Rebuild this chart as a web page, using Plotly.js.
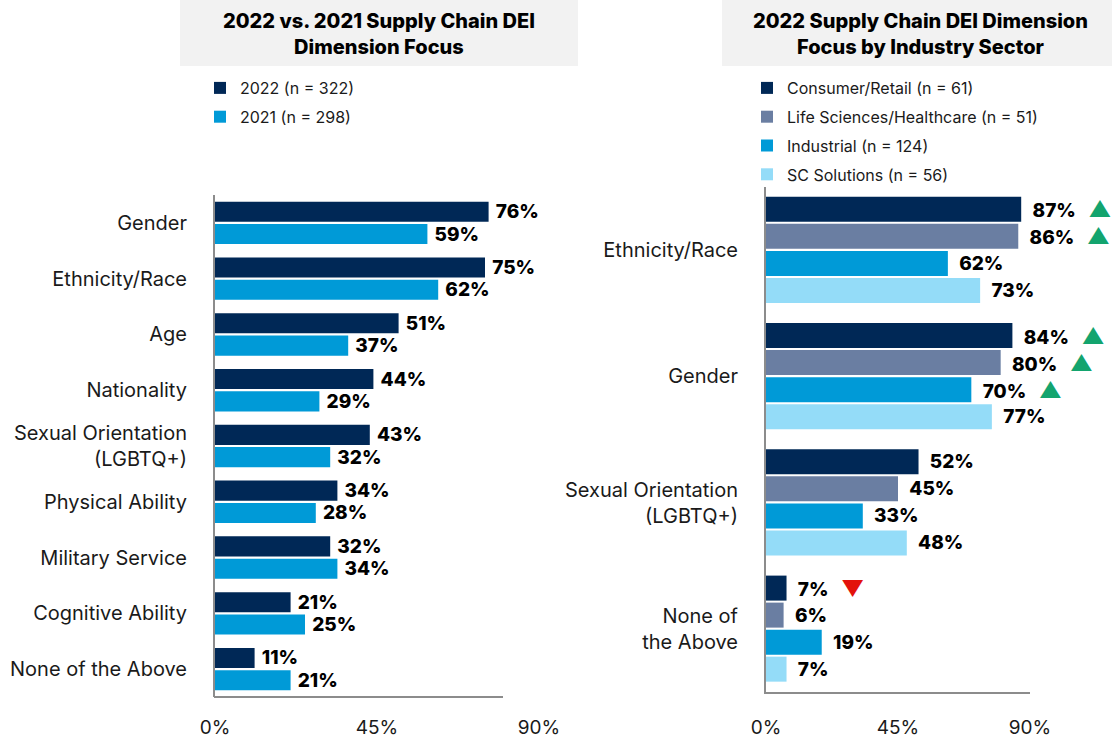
<!DOCTYPE html>
<html>
<head>
<meta charset="utf-8">
<script src="https://cdn.plot.ly/plotly-3.0.1.min.js"></script>
<style>html,body{margin:0;padding:0;background:#fff;}#chart{width:1112px;height:739px;}</style>
</head>
<body>
<div id="chart"></div>
<script>
// ---- Left chart data ----
const leftCategories = ["Gender", "Ethnicity/Race", "Age", "Nationality", "Sexual Orientation<br>(LGBTQ+)", "Physical Ability", "Military Service", "Cognitive Ability", "None of the Above"];
const leftSeriesNames = ["2022 (n = 322)", "2021 (n = 298)"];
const values2022 = [76, 75, 51, 44, 43, 34, 32, 21, 11];
const values2021 = [59, 62, 37, 29, 32, 28, 34, 25, 21];

// ---- Right chart data ----
const rightCategories = ["Ethnicity/Race", "Gender", "Sexual Orientation<br>(LGBTQ+)", "None of<br>the Above"];
const rightSeriesNames = ["Consumer/Retail (n = 61)", "Life Sciences/Healthcare (n = 51)", "Industrial (n = 124)", "SC Solutions (n = 56)"];
const consumerRetail = [87, 84, 52, 7];
const lifeSciences = [86, 80, 45, 6];
const industrial = [62, 70, 33, 19];
const scSolutions = [73, 77, 48, 7];
// significance markers: 1 = up, -1 = down, 0 = none
const consumerSig = [1, 1, 0, -1];
const lifeSig = [1, 1, 0, 0];
const industrialSig = [0, 1, 0, 0];
const scSig = [0, 0, 0, 0];

const xTickVals = [0, 45, 90];
const xTickText = ["0%", "45%", "90%"];

const FONT = "Inter, 'Open Sans', 'DejaVu Sans', sans-serif";
const NB = "\u00A0";
const UP = NB + NB + NB + "<span style='color:#13a46e;font-size:22px'>▲</span>";
const DOWN = NB + NB + NB + "<span style='color:#e3120b;font-size:22px'>▼</span>";

function labels(vals, sig, pad) {
  return vals.map((v, i) => pad + v + "%" + (sig ? (sig[i] === 1 ? UP : sig[i] === -1 ? DOWN : "") : ""));
}

const W = 1112, H = 739;
const px = v => v / W;
const py = v => 1 - v / H;

const labelFont = {family: FONT, size: 19, color: "#000", weight: 800};

const leftBarH = 0.36;
const traces = [
  {type: "bar", orientation: "h", name: leftSeriesNames[0], y: leftCategories, x: values2022,
   xaxis: "x", yaxis: "y", marker: {color: "#002856"}, width: leftBarH, offset: -0.38,
   text: labels(values2022, null, NB), textposition: "outside", textfont: labelFont, constraintext: "none", cliponaxis: false,
   legend: "legend", legendgroup: "a", hoverinfo: "skip"},
  {type: "bar", orientation: "h", name: leftSeriesNames[1], y: leftCategories, x: values2021,
   xaxis: "x", yaxis: "y", marker: {color: "#009ad7"}, width: leftBarH, offset: 0.02,
   text: labels(values2021, null, NB), textposition: "outside", textfont: labelFont, constraintext: "none", cliponaxis: false,
   legend: "legend", legendgroup: "b", hoverinfo: "skip"}
];

const rightSets = [
  [rightSeriesNames[0], consumerRetail, consumerSig, "#002856"],
  [rightSeriesNames[1], lifeSciences, lifeSig, "#6a7ea2"],
  [rightSeriesNames[2], industrial, industrialSig, "#009ad7"],
  [rightSeriesNames[3], scSolutions, scSig, "#94dcf8"]
];
const rW = 0.198, rOff = [-0.422, -0.208, 0.006, 0.22];
rightSets.forEach((s, i) => {
  traces.push({type: "bar", orientation: "h", name: s[0], y: rightCategories, x: s[1],
    xaxis: "x2", yaxis: "y2", marker: {color: s[3]}, width: rW, offset: rOff[i],
    text: labels(s[1], s[2], NB + NB), textposition: "outside", textfont: labelFont, constraintext: "none", cliponaxis: false,
    legend: "legend2", legendgroup: "r" + i, hoverinfo: "skip"});
});

const catFont = {family: FONT, size: 20, color: "#1a1a1a"};
const tickFont = {family: FONT, size: 19, color: "#1a1a1a"};
const axisLine = "#8c8c8c";
const legFont = {family: FONT, size: 16, color: "#1a1a1a"};

const layout = {
  width: W, height: H,
  margin: {l: 0, r: 0, t: 0, b: 0},
  paper_bgcolor: "#fff", plot_bgcolor: "#fff",
  barmode: "group",
  font: {family: FONT, color: "#1a1a1a"},
  showlegend: true,
  xaxis: {domain: [px(215), px(539)], range: [0, 90], tickvals: xTickVals, ticktext: xTickText,
    showgrid: false, zeroline: false, showline: false, ticks: "", ticklabelstandoff: 17,
    tickfont: tickFont, anchor: "y", fixedrange: true},
  yaxis: {domain: [py(697), py(195)], type: "category", autorange: "reversed",
    showgrid: false, zeroline: false, showline: true, linecolor: axisLine, linewidth: 2,
    ticks: "", ticklabelstandoff: 22, tickfont: catFont, anchor: "x", fixedrange: true},
  xaxis2: {domain: [px(766), px(1030)], range: [0, 90], tickvals: xTickVals, ticktext: xTickText,
    showgrid: false, zeroline: false, showline: true, linecolor: axisLine, linewidth: 2,
    ticks: "", ticklabelstandoff: 17, tickfont: tickFont, anchor: "y2", fixedrange: true},
  yaxis2: {domain: [py(692), py(187)], type: "category", autorange: "reversed",
    showgrid: false, zeroline: false, showline: true, linecolor: axisLine, linewidth: 2,
    ticks: "", ticklabelstandoff: 22, tickfont: catFont, anchor: "x2", fixedrange: true},
  legend: {x: px(200), y: py(71), xanchor: "left", yanchor: "top", orientation: "v",
    font: legFont, bgcolor: "rgba(0,0,0,0)",
    traceorder: "grouped", tracegroupgap: 5, itemclick: false, itemdoubleclick: false},
  legend2: {x: px(747), y: py(71), xanchor: "left", yanchor: "top", orientation: "v",
    font: legFont, bgcolor: "rgba(0,0,0,0)",
    traceorder: "grouped", tracegroupgap: 5, itemclick: false, itemdoubleclick: false},
  shapes: [
    {type: "rect", xref: "paper", yref: "paper", x0: px(180), x1: px(578), y0: py(66), y1: 1,
     fillcolor: "#f2f2f2", line: {width: 0}, layer: "below"},
    {type: "rect", xref: "paper", yref: "paper", x0: px(722), x1: 1, y0: py(66), y1: 1,
     fillcolor: "#f2f2f2", line: {width: 0}, layer: "below"},
    {type: "line", xref: "paper", yref: "paper", x0: px(214), x1: px(503), y0: py(697), y1: py(697),
     line: {color: axisLine, width: 2}}
  ],
  annotations: [
    {xref: "paper", yref: "paper", x: px(379), y: py(34), xanchor: "center", yanchor: "middle",
     text: "2022 vs. 2021 Supply Chain DEI<br>Dimension Focus", showarrow: false, align: "center",
     font: {family: FONT, size: 20, color: "#000", weight: 800}},
    {xref: "paper", yref: "paper", x: px(920), y: py(34), xanchor: "center", yanchor: "middle",
     text: "2022 Supply Chain DEI Dimension<br>Focus by Industry Sector", showarrow: false, align: "center",
     font: {family: FONT, size: 20, color: "#000", weight: 800}}
  ]
};

Plotly.newPlot("chart", traces, layout, {displayModeBar: false, staticPlot: true});
</script>
</body>
</html>
